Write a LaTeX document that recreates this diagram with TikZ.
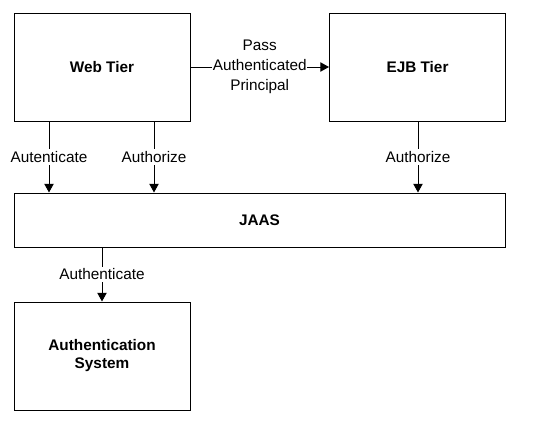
\documentclass[tikz,border=0pt]{standalone}
\usepackage{fontspec}
\setmainfont{Liberation Sans}
\usetikzlibrary{arrows.meta}
\tikzset{
  tierbox/.style={draw, line width=0.75pt, minimum width=132pt, minimum height=81pt, align=center, inner sep=0.75pt, font=\bfseries\fontsize{11.5}{13.5}\selectfont},
  flowlabel/.style={fill=white, inner xsep=0.5pt, inner ysep=1.5pt, align=center, font=\fontsize{11.5}{15}\selectfont},
  flow/.style={line width=0.75pt, -{Triangle[width=7pt,length=6.5pt]}}
}
\begin{document}
\begin{tikzpicture}[x=0.75pt,y=0.75pt,yscale=-1,xscale=1]
        \useasboundingbox (0,0) rectangle (537,426);
        % Boxes
        \node [tierbox] (web) at (102,67) {Web Tier};
        \node [tierbox] (ejb) at (417.5,67) {EJB Tier};
        \node [tierbox, minimum width=368.25pt, minimum height=40.5pt] (jaas) at (259.5,220) {JAAS};
        \node [tierbox] (auth) at (102,356) {Authentication\\System};

        % Connectors
        \draw [flow] (web) -- node [flowlabel] {Pass\\Authenticated\\Principal} (ejb);
        \draw [flow] (web.south -| 49,0) -- node [flowlabel] {Autenticate} (jaas.north -| 49,0);
        \draw [flow] (web.south -| 154,0) -- node [flowlabel] {Authorize} (jaas.north -| 154,0);
        \draw [flow] (ejb.south -| 418,0) -- node [flowlabel] {Authorize} (jaas.north -| 418,0);
        \draw [flow] (jaas.south -| auth.north) -- node [flowlabel] {Authenticate} (auth.north);
\end{tikzpicture}
\end{document}
